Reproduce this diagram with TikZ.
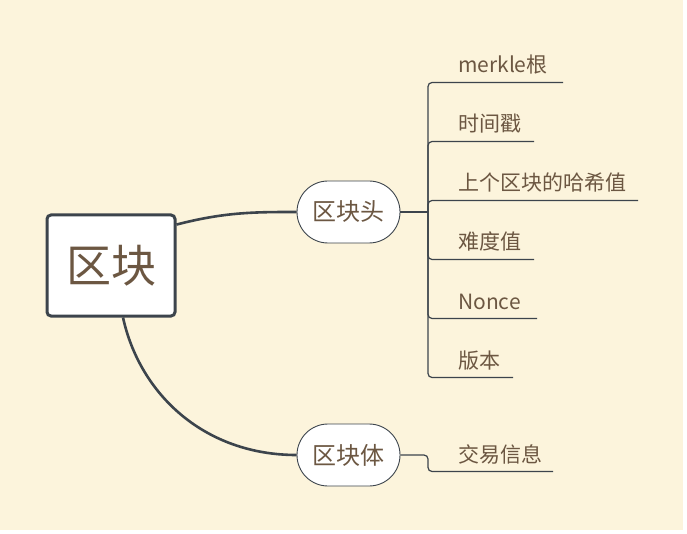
\documentclass[tikz,border=0pt]{standalone}
\usepackage{fontspec}
\setmainfont{Noto Sans CJK SC}
\newfontfamily\cjkf{Noto Sans CJK SC}
\definecolor{bgc}{HTML}{FCF4DC}
\definecolor{linec}{HTML}{3C444C}
\definecolor{txtc}{HTML}{6C5742}
\begin{document}
\begin{tikzpicture}[x=1pt,y=-1pt,
  rootbox/.style={draw=linec, line width=3pt, fill=white, rounded corners=4pt,
    minimum width=128pt, minimum height=101pt, inner sep=0pt,
    font=\cjkf\fontsize{45}{50}\selectfont, text=txtc},
  pill/.style={draw=linec, line width=0.9pt, fill=white, rounded corners=31pt,
    minimum width=103pt, minimum height=62pt, inner sep=0pt,
    font=\cjkf\fontsize{24}{28}\selectfont, text=txtc},
  leaf/.style={anchor=base west, inner sep=0pt, text=txtc,
    font=\cjkf\fontsize{21}{24}\selectfont},
  mainline/.style={draw=linec, line width=2.6pt},
  subline/.style={draw=linec, line width=1.2pt, rounded corners=4pt},
]
\useasboundingbox (0,0) rectangle (687,534);
\fill[white] (0,0) rectangle (687,534);
\fill[bgc] (0,0) rectangle (683,530);

\node[rootbox] (c) at (111,265.5) {区块};
\node[pill] (h) at (348.5,212) {区块头};
\node[pill] (b) at (348.5,455) {区块体};

\draw[mainline] (c.32) .. controls (225,212) and (255,212) .. (h.west);
\draw[mainline] (c.-77) .. controls (140,395) and (205,455) .. (b.west);

\coordinate (jh) at (428,212);
\coordinate (jb) at (428,455);

\node[leaf] (l1) at (458,73) {merkle根};
\node[leaf] (l2) at (458,132) {时间戳};
\node[leaf] (l3) at (458,191) {上个区块的哈希值};
\node[leaf] (l4) at (458,250) {难度值};
\node[leaf] (l5) at (458,309) {Nonce};
\node[leaf] (l6) at (458,368) {版本};
\node[leaf] (l7) at (458,462) {交易信息};

\coordinate (e1) at (563,82.5);
\coordinate (e2) at (534,141.5);
\coordinate (e3) at (638,200.5);
\coordinate (e4) at (534,259.5);
\coordinate (e5) at (537,318.5);
\coordinate (e6) at (513,377.5);
\coordinate (e7) at (553,471.5);

\draw[subline] (h.east) -- (jh);
\foreach \e in {e1,e2,e3,e4,e5,e6}{
  \draw[subline] (jh) |- (\e);
}
\draw[subline] (b.east) -- (jb) |- (e7);
\end{tikzpicture}
\end{document}
